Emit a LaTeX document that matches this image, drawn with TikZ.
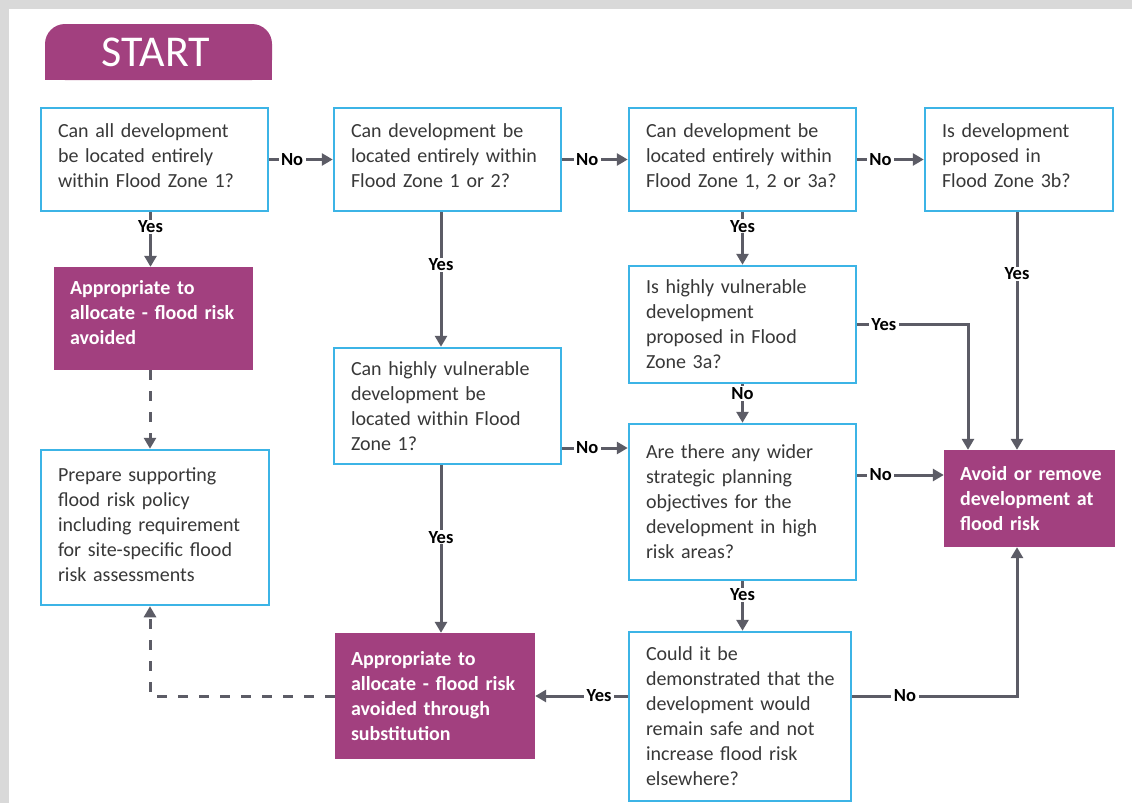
\documentclass[tikz,border=0pt]{standalone}
\usepackage{fontspec}
\setmainfont{Carlito}
\usetikzlibrary{arrows.meta,calc}
\definecolor{purp}{HTML}{A2407F}
\definecolor{boxblue}{HTML}{3CB4E6}
\definecolor{arrgray}{HTML}{5C5C66}
\definecolor{txtgray}{HTML}{383838}
\definecolor{bggray}{HTML}{D9D9D9}
\newcommand{\pushup}[1]{\rule[-#1]{0pt}{#1}}
\begin{document}
\begin{tikzpicture}[x=1pt,y=-1pt,
  qbox/.style={draw=boxblue, line width=2.5pt, fill=white, inner xsep=17pt, inner ysep=0pt,
    align=left, text=txtgray, font=\fontsize{20}{25}\selectfont},
  outbox/.style={fill=purp, inner xsep=16pt, inner ysep=0pt, align=left, text=white,
    font=\fontsize{20}{25}\selectfont\bfseries},
  arr/.style={draw=arrgray, line width=3pt, -{Triangle[length=11pt,width=12pt]}},
  darr/.style={arr, dash pattern=on 10pt off 11pt},
  lbl/.style={fill=white, inner xsep=2.5pt, inner ysep=1pt, font=\fontsize{18.5}{20}\selectfont\bfseries, text=black}
]
\useasboundingbox (0,0) rectangle (1132,803);
\fill[bggray] (0,0) rectangle (1132,803);
\fill[white] (9,9) rectangle (1132,803);

% START
\fill[purp, rounded corners=20pt] (45,24) rectangle (272,80);
\fill[purp] (45,50) rectangle (272,80);
\node[text=white, font=\fontsize{44}{48}\selectfont, inner sep=0pt] (start) at (156,52) {START};

% question boxes
\node[qbox, text width=193pt, minimum height=103pt] (A) at (154.5,159.5)
  {Can all development\\be located entirely\\within Flood Zone 1?\pushup{8pt}};
\node[qbox, text width=193pt, minimum height=103pt] (B) at (447.5,159.5)
  {Can development be\\\mbox{located entirely within}\\Flood Zone 1 or 2?\pushup{8pt}};
\node[qbox, text width=193pt, minimum height=103pt] (C) at (742.5,159.5)
  {Can development be\\\mbox{located entirely within}\\\mbox{Flood Zone 1, 2 or 3a?}\pushup{8pt}};
\node[qbox, text width=154pt, minimum height=103pt] (D) at (1019,159.5)
  {Is development\\proposed in\\Flood Zone 3b?\pushup{8pt}};
\node[qbox, text width=194pt, minimum height=155pt] (E) at (155,527.5)
  {Prepare supporting\\flood risk policy\\\mbox{including requirement}\\\mbox{for site-specific flood}\\risk assessments\pushup{6pt}};
\node[qbox, text width=193pt, minimum height=116pt] (F) at (447.5,406)
  {\mbox{Can highly vulnerable}\\development be\\located within Flood\\Zone 1?};
\node[qbox, text width=193pt, minimum height=117pt] (G) at (742.5,324.5)
  {Is highly vulnerable\\development\\proposed in Flood\\Zone 3a?};
\node[qbox, text width=193pt, minimum height=156pt] (H) at (742.5,502)
  {Are there any wider\\strategic planning\\objectives for the\\\mbox{development in high}\\risk areas?};
\node[qbox, text width=188pt, minimum height=169pt] (I) at (740,716.5)
  {Could it be\\\mbox{demonstrated that the}\\development would\\remain safe and not\\increase flood risk\\elsewhere?};

% outcome boxes
\node[outbox, text width=167pt, minimum height=103pt] (P1) at (153.5,318.5)
  {Appropriate to\\\mbox{allocate - flood risk}\\avoided\pushup{12pt}};
\node[outbox, text width=139pt, minimum height=97pt] (P2) at (1029.5,498.5)
  {\mbox{Avoid or remove}\\\mbox{development at}\\flood risk};
\node[outbox, text width=168pt, minimum height=126pt] (P3) at (435,696)
  {Appropriate to\\\mbox{allocate - flood risk}\\avoided through\\substitution};

% connectors
\draw[arr] (A.east) -- node[lbl, pos=0.36] {No} (B.west);
\draw[arr] (B.east) -- node[lbl, pos=0.38] {No} (C.west);
\draw[arr] (C.east) -- node[lbl, pos=0.35] {No} (D.west);
\draw[arr] ([xshift=-4pt]A.south) -- node[lbl, pos=0.27] {Yes} ([xshift=-4pt]A.south |- P1.north);
\draw[arr] ([xshift=-6.5pt]B.south) -- node[lbl, pos=0.39] {Yes} ([xshift=-6.5pt]B.south |- F.north);
\draw[arr] (C.south) -- node[lbl, pos=0.27] {Yes} (C.south |- G.north);
\draw[arr] ([xshift=-2pt]D.south) -- node[lbl, pos=0.26] {Yes} ([xshift=-2pt]D.south |- P2.north);
\draw[arr] (G.east) -| node[lbl, pos=0.12] {Yes} ([xshift=-61.5pt]P2.north);
\draw[arr] (G.south) -- node[lbl, pos=0.24] {No} (G.south |- H.north);
\draw[arr] ([yshift=-42pt]F.east) -- node[lbl, pos=0.38] {No} ([yshift=-42pt]F.east -| H.west);
\draw[arr] ([yshift=27pt]H.east) -- node[lbl, pos=0.27] {No} ([yshift=27pt]H.east -| P2.west);
\draw[arr] (H.south) -- node[lbl, pos=0.27] {Yes} (H.south |- I.north);
\draw[arr] ([xshift=-6.5pt]F.south) -- node[lbl, pos=0.43] {Yes} ([xshift=-6.5pt]F.south |- P3.north);
\draw[arr] (I.west |- P3.east) -- node[lbl, pos=0.31] {Yes} (P3.east);
\draw[arr] (I.east |- P3.east) -| node[lbl, pos=0.16] {No} ([xshift=-12.5pt]P2.south);
\draw[darr] ([xshift=-3.5pt]P1.south) -- ([xshift=-3.5pt]P1.south |- E.north);
\draw[darr] (P3.west) -| ([xshift=-5pt]E.south);
\end{tikzpicture}
\end{document}
